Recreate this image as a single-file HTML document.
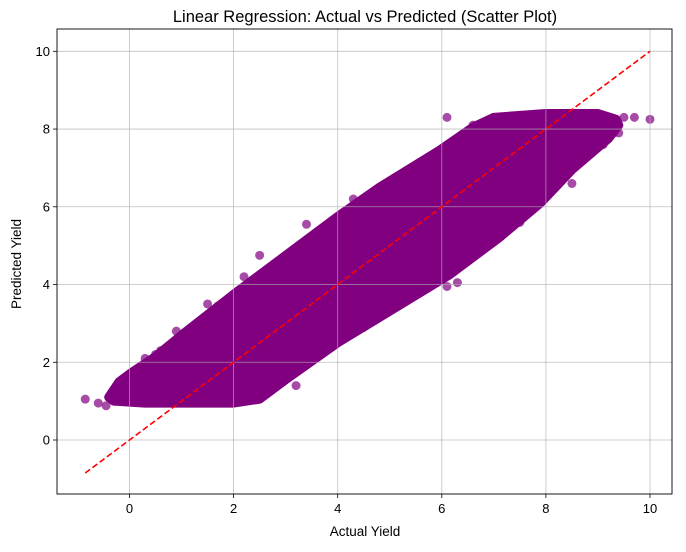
<!DOCTYPE html>
<html><head><meta charset="utf-8"><style>
html,body{margin:0;padding:0;background:#fff;}
svg text{font-family:"Liberation Sans","DejaVu Sans",sans-serif;fill:#000;}
</style></head><body>
<svg id="chart" width="686" height="547" viewBox="0 0 686 547" xmlns="http://www.w3.org/2000/svg">
<g id="marks"></g>
<g id="grid"></g>
<g id="axes"></g>
<text x="365" y="22" text-anchor="middle" font-size="16.5">Linear Regression: Actual vs Predicted (Scatter Plot)</text>
<text x="365" y="536" text-anchor="middle" font-size="13.5">Actual Yield</text>
<text x="21" y="264" text-anchor="middle" font-size="13.5" transform="rotate(-90 21 264)">Predicted Yield</text>
</svg>
<script>
const xTicks=[0,2,4,6,8,10];
const yTicks=[0,2,4,6,8,10];
const bandUpperX=[-0.4,-0.2,0,0.5,1,2,3,4,4.8,5.95,6.6,7,8,9,9.35];
const bandUpperY=[1.1,1.5,1.7,2.15,2.7,3.75,4.75,5.75,6.5,7.45,8.05,8.3,8.4,8.4,8.25];
const bandLowerX=[9.4,9.2,8.5,7.9,7.1,6.15,4.8,4,3,2.5,2,1,0.3,-0.3];
const bandLowerY=[8.1,7.75,6.95,6.1,5.2,4.25,3.15,2.5,1.55,1.05,0.95,0.95,0.95,1.0];
const outX=[-0.85,-0.6,-0.45,-0.2,0.1,0.3,0.6,0.9,1.7,2.1,2.2,2.5,3.4,3.7,4.3,4.7,5.9,6.0,6.1,6.6,6.3,6.1,3.2,8.5,9.7,10,9.4,5.2,4.5,2.8,1.5,0.5,-0.35,7.5,8.8,9.1,9.5,9.3];
const outY=[1.05,0.95,0.88,1.45,1.6,2.1,2.3,2.8,3.45,3.85,4.2,4.75,5.55,5.2,6.2,6.3,7.2,7.0,8.3,8.1,4.05,3.95,1.4,6.6,8.3,8.25,7.9,3.8,2.9,1.6,3.5,2.2,1.2,5.6,7.3,7.6,8.3,7.9];
const lineX=[-0.85,10];
const lineY=[-0.85,10];

const L=57,R=672,T=29,B=494;
const xs=v=>129.5+v*52.05;
const ys=v=>440-v*38.87;
const NS="http://www.w3.org/2000/svg";
function mk(t,a,p){const e=document.createElementNS(NS,t);for(const k in a)e.setAttribute(k,a[k]);p.appendChild(e);return e;}
const marks=document.getElementById('marks'),grid=document.getElementById('grid'),axes=document.getElementById('axes');

let pts=[];
for(let i=0;i<bandUpperX.length;i++)pts.push(xs(bandUpperX[i])+','+ys(bandUpperY[i]));
for(let i=0;i<bandLowerX.length;i++)pts.push(xs(bandLowerX[i])+','+ys(bandLowerY[i]));
const band=mk('polygon',{points:pts.join(' '),fill:'#800080',stroke:'#800080','stroke-width':9,'stroke-linejoin':'round'},marks);


for(let i=0;i<outX.length;i++){
  const c=mk('circle',{cx:xs(outX[i]),cy:ys(outY[i]),r:4.5,fill:'#800080','fill-opacity':0.7},marks);
  
  
}
for(const v of xTicks){
  const g=mk('line',{x1:xs(v),x2:xs(v),y1:T,y2:B,stroke:'#b0b0b0','stroke-width':0.8,'stroke-opacity':0.8},grid);
  
  
  mk('line',{x1:xs(v),x2:xs(v),y1:B,y2:B+4,stroke:'#000','stroke-width':0.8},axes);
  const t=mk('text',{x:xs(v),y:B+19,'text-anchor':'middle','font-size':13},axes);t.textContent=v;
  
  
}
for(const v of yTicks){
  const g=mk('line',{x1:L,x2:R,y1:ys(v),y2:ys(v),stroke:'#b0b0b0','stroke-width':0.8,'stroke-opacity':0.8},grid);
  
  
  mk('line',{x1:L-4,x2:L,y1:ys(v),y2:ys(v),stroke:'#000','stroke-width':0.8},axes);
  const t=mk('text',{x:L-7,y:ys(v)+4.5,'text-anchor':'end','font-size':13},axes);t.textContent=v;
  
  
}
const rl=mk('line',{x1:xs(lineX[0]),y1:ys(lineY[0]),x2:xs(lineX[1]),y2:ys(lineY[1]),stroke:'#ff0000','stroke-width':1.6,'stroke-dasharray':'6,3'},axes);


const fr=mk('rect',{x:L,y:T,width:R-L,height:B-T,fill:'none',stroke:'#000','stroke-width':0.9},axes);


</script>
</body></html>
